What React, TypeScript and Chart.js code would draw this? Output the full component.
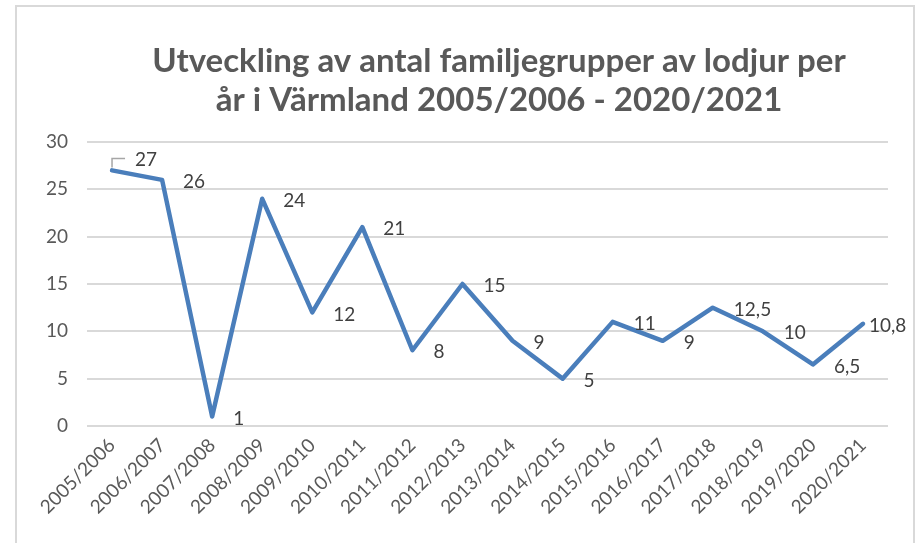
import React, { useEffect, useRef } from "react";
import { Chart, registerables } from "chart.js";

Chart.register(...registerables);

const categories = [
  "2005/2006", "2006/2007", "2007/2008", "2008/2009", "2009/2010", "2010/2011",
  "2011/2012", "2012/2013", "2013/2014", "2014/2015", "2015/2016", "2016/2017",
  "2017/2018", "2018/2019", "2019/2020", "2020/2021",
];
const familyGroups = [27, 26, 1, 24, 12, 21, 8, 15, 9, 5, 11, 9, 12.5, 10, 6.5, 10.8];
const yTicks = [0, 5, 10, 15, 20, 25, 30];
const titleLines = [
  "Utveckling av antal familjegrupper av lodjur per",
  "år i Värmland 2005/2006 - 2020/2021",
];

const FONT = "Lato, 'Liberation Sans', sans-serif";

const titlePlugin = {
  id: "customTitle",
  afterDraw(chart: any) {
    const ctx = chart.ctx;
    ctx.save();
    ctx.fillStyle = "#595959";
    ctx.font = `bold 33px ${FONT}`;
    ctx.textAlign = "center";
    ctx.textBaseline = "middle";
    ctx.fillText(titleLines[0], 499, 61);
    ctx.fillText(titleLines[1], 499, 100);
    ctx.restore();
  },
};

const labelPlugin = {
  id: "dataLabels",
  afterDatasetsDraw(chart: any) {
    const ctx = chart.ctx;
    const meta = chart.getDatasetMeta(0);
    const n = meta.data.length;
    ctx.save();
    ctx.font = `19px ${FONT}`;
    ctx.fillStyle = "#404040";
    ctx.textAlign = "left";
    ctx.textBaseline = "middle";
    meta.data.forEach((el: any, i: number) => {
      const text = String(familyGroups[i]).replace(".", ",");
      let dx = 21;
      let dy = 2;
      if (i === 0) {
        dx = 23;
        dy = -11;
        ctx.save();
        ctx.strokeStyle = "#a6a6a6";
        ctx.lineWidth = 1.5;
        ctx.beginPath();
        ctx.moveTo(el.x, el.y - 3);
        ctx.lineTo(el.x, el.y - 12);
        ctx.lineTo(el.x + 13, el.y - 12);
        ctx.stroke();
        ctx.restore();
      }
      if (i === n - 1) {
        dx = 6;
        dy = 2;
      }
      ctx.fillText(text, el.x + dx, el.y + dy);
    });
    ctx.restore();
  },
};

export default function App() {
  const ref = useRef<HTMLCanvasElement>(null);
  useEffect(() => {
    if (!ref.current) return;
    const chart = new Chart(ref.current, {
      type: "line",
      data: {
        labels: categories,
        datasets: [
          {
            data: familyGroups,
            borderColor: "#4a7ebb",
            borderWidth: 4.5,
            pointRadius: 0,
            tension: 0,
            borderJoinStyle: "round",
            borderCapStyle: "round",
            fill: false,
          },
        ],
      },
      options: {
        animation: false,
        responsive: false,
        events: [],
        layout: { padding: { left: 0, top: 142, right: 36, bottom: 0 } },
        plugins: {
          legend: { display: false },
          title: { display: false },
          tooltip: { enabled: false },
        },
        scales: {
          x: {
            offset: true,
            grid: { display: false, drawTicks: false },
            border: { display: false },
            ticks: {
              autoSkip: false,
              maxRotation: 45,
              minRotation: 45,
              padding: 8,
              color: "#595959",
              font: { family: FONT, size: 19 },
            },
            afterFit(scale: any) {
              scale.height = 117;
            },
          },
          y: {
            min: yTicks[0],
            max: yTicks[yTicks.length - 1],
            afterBuildTicks(scale: any) {
              scale.ticks = yTicks.map((v) => ({ value: v }));
            },
            grid: { color: "#d9d9d9", lineWidth: 2, drawTicks: false },
            border: { display: false },
            ticks: {
              padding: 19,
              color: "#595959",
              font: { family: FONT, size: 19 },
            },
            afterFit(scale: any) {
              scale.width = 87;
            },
          },
        },
      },
      plugins: [titlePlugin, labelPlugin],
    });
    return () => chart.destroy();
  }, []);

  return (
    <div style={{ position: "fixed", left: 0, top: 0, width: 924, height: 543, background: "#fff" }}>
      <canvas ref={ref} width={924} height={543} style={{ position: "absolute", left: 0, top: 0 }} />
      <div
        style={{
          position: "absolute",
          left: 15,
          top: 5,
          width: 896,
          height: 600,
          borderTop: "2px solid #d9d9d9",
          borderLeft: "2px solid #d9d9d9",
          borderRight: "2px solid #d9d9d9",
          boxSizing: "content-box",
          pointerEvents: "none",
        }}
      />
    </div>
  );
}
